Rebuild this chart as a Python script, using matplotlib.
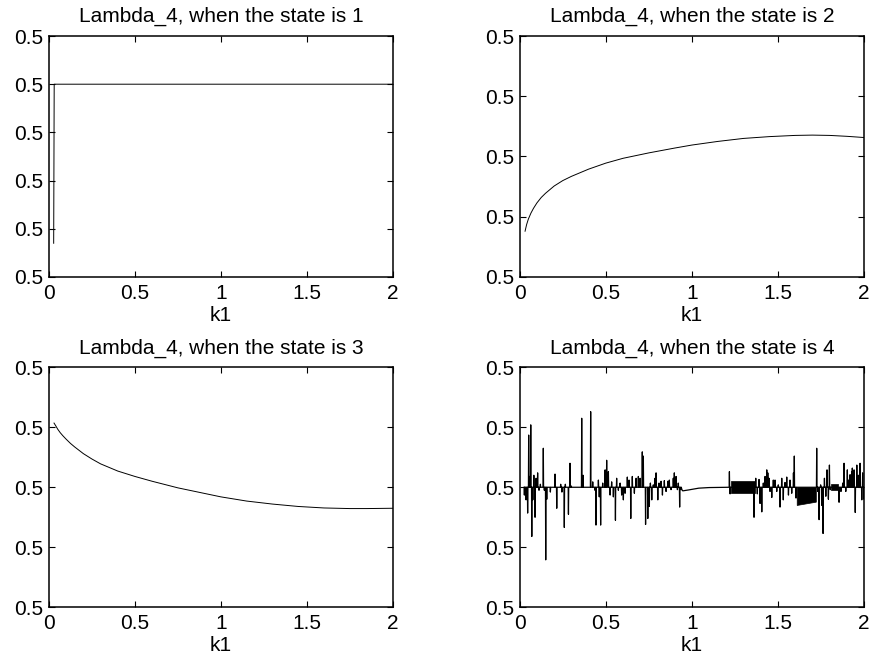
import numpy as np
import matplotlib
matplotlib.use('Agg')
import matplotlib.pyplot as plt
from matplotlib.ticker import FormatStrFormatter

plt.rcParams['font.family'] = ['Liberation Sans', 'DejaVu Sans']
FS = 15

## Lambda_4 values are all within a few 1e-6 of 0.5, so store the
## deviation from 0.5 (in units of 1e-6)
SCALE = 1e-6

# state 1: a short drop at the start then flat
k1_s1 = [0.027, 0.030, 0.035, 0.5, 1.0, 1.5, 2.0]
dev_s1 = [0.70, 4.0, 4.0, 4.0, 4.0, 4.0, 4.0]

# state 2: rising curve
k1_s2 = [0.031, 0.04, 0.05, 0.065, 0.08, 0.10, 0.125, 0.15, 0.2, 0.25,
         0.3, 0.4, 0.5, 0.6, 0.75, 0.9, 1.0, 1.15, 1.3, 1.45, 1.6, 1.7,
         1.8, 1.9, 2.0]
dev_s2 = [0.76, 0.87, 0.96, 1.06, 1.14, 1.23, 1.32, 1.39, 1.51, 1.60,
          1.67, 1.79, 1.89, 1.97, 2.06, 2.14, 2.19, 2.25, 2.30, 2.33, 2.35,
          2.355, 2.35, 2.335, 2.315]

# state 3: falling curve
k1_s3 = [0.029, 0.04, 0.05, 0.065, 0.08, 0.10, 0.125, 0.15, 0.2, 0.25,
         0.3, 0.4, 0.5, 0.6, 0.75, 0.9, 1.0, 1.15, 1.3, 1.45, 1.6, 1.75,
         1.85, 2.0]
dev_s3 = [3.07, 3.02, 2.97, 2.91, 2.86, 2.80, 2.73, 2.67, 2.56, 2.47,
          2.39, 2.27, 2.18, 2.10, 1.99, 1.90, 1.84, 1.77, 1.72, 1.68, 1.655,
          1.645, 1.645, 1.65]

# state 4: noisy around the baseline
base_s4 = 2.0
spike_k1 = [0.027, 0.037, 0.046, 0.052, 0.058, 0.064, 0.070, 0.076, 0.082,
            0.089, 0.095, 0.104, 0.112, 0.120, 0.137, 0.143, 0.151, 0.157,
            0.178, 0.205, 0.215, 0.238, 0.245, 0.259, 0.265, 0.283, 0.292,
            0.300, 0.360, 0.368, 0.412, 0.424, 0.437, 0.443, 0.457, 0.462,
            0.470, 0.482, 0.496, 0.505, 0.515, 0.525, 0.534, 0.544, 0.556,
            0.563, 0.573, 0.583, 0.592, 0.602, 0.612, 0.625, 0.635, 0.645,
            0.654, 0.666, 0.676, 0.689, 0.699, 0.712, 0.718, 0.731, 0.744,
            0.753, 0.759, 0.767, 0.776, 0.786, 0.792, 0.802, 0.809, 0.821,
            0.829, 0.840, 0.850, 0.860, 0.869, 0.879, 0.892, 0.898, 0.908,
            0.916, 0.921, 0.929, 0.937,
            1.218, 1.222, 1.361, 1.371, 1.380, 1.390, 1.396, 1.406, 1.415,
            1.425, 1.435, 1.441, 1.448, 1.454, 1.464, 1.473, 1.483, 1.493,
            1.502, 1.512, 1.522, 1.531, 1.541, 1.551, 1.561, 1.570, 1.580,
            1.590, 1.595, 1.605, 1.725, 1.731, 1.739, 1.748, 1.754, 1.762,
            1.770, 1.778, 1.785, 1.793, 1.799, 1.804, 1.855, 1.866, 1.876,
            1.884, 1.894, 1.903, 1.909, 1.919, 1.929, 1.932, 1.942, 1.949,
            1.958, 1.967, 1.977, 1.987, 1.992, 2.000]
spike_dev = [1.87, 1.79, 1.57, 2.87, 2.18, 3.04, 1.18, 1.79, 2.20,
             1.50, 2.15, 2.24, 1.95, 2.05, 2.65, 1.95, 0.79, 1.80,
             1.92, 2.22, 1.65, 2.05, 1.92, 1.33, 2.05, 1.55, 2.40,
             2.02, 3.15, 2.20, 3.26, 2.09, 1.95, 1.37, 2.12, 1.84,
             1.37, 2.07, 2.29, 2.45, 2.26, 1.87, 2.09, 1.84, 1.45,
             2.15, 1.95, 2.07, 1.87, 1.79, 1.90, 2.17, 2.12, 1.48,
             2.18, 1.90, 2.15, 2.18, 2.15, 2.59, 2.52, 1.38, 1.48,
             1.68, 2.07, 1.79, 2.04, 2.15, 2.24, 1.79, 2.07, 2.10,
             1.87, 2.11, 1.93, 2.10, 2.12, 1.96, 2.15, 2.24, 2.18,
             1.96, 2.07, 1.67, 1.96,
             2.26, 1.89, 1.50, 2.15, 1.89, 2.13, 1.73, 1.59, 2.07,
             2.18, 2.29, 2.24, 2.15, 1.93, 1.83, 2.12, 2.12, 1.93,
             2.04, 1.67, 2.15, 1.79, 2.08, 2.17, 1.87, 2.12, 1.90,
             2.24, 2.52, 1.82, 2.65, 1.93, 1.46, 2.04, 1.70, 1.23,
             2.15, 1.85, 2.29, 1.80, 2.37, 1.96, 1.75, 1.93, 2.07,
             2.40, 1.93, 2.29, 2.12, 2.21, 2.26, 2.32, 2.29, 1.58,
             2.37, 2.20, 2.40, 1.79, 2.24, 1.80]
# smooth stretch in the middle
smooth_k1 = [0.942, 0.947, 0.98, 1.04, 1.10, 1.19, 1.215]
smooth_dev = [1.96, 1.94, 1.955, 1.985, 1.995, 2.0, 2.0]
# stretches of very fast oscillation (drawn as filled bands)
band_k1 = [[1.226, 1.367], [1.609, 1.720], [1.808, 1.850]]
band_lo = [[1.91, 1.91], [1.705, 1.76], [1.95, 1.95]]
band_hi = [[2.10, 2.10], [2.00, 2.00], [2.06, 2.06]]

k1_ticks = [0, 0.5, 1, 1.5, 2]


def lam(dev):
    return 0.5 + np.asarray(dev) * SCALE


def style_axes(ax, state, n_yticks):
    ax.set_xlim(0, 2)
    ax.set_ylim(lam(0), lam(n_yticks))
    ax.set_xticks(k1_ticks)
    ax.set_xticklabels(['0', '0.5', '1', '1.5', '2'])
    ax.set_yticks(lam(np.arange(n_yticks + 1)))
    ax.yaxis.set_major_formatter(FormatStrFormatter('%.1f'))
    ax.tick_params(direction='in', length=4, width=0.8, top=True, right=True,
                   labelsize=FS)
    ax.tick_params(axis='x', pad=5)
    ax.tick_params(axis='y', pad=4)
    for sp in ax.spines.values():
        sp.set_linewidth(1.1)
    ax.set_title('Lambda_4, when the state is %d' % state, fontsize=FS,
                 pad=10)
    ax.set_xlabel('k1', fontsize=FS, labelpad=2)


fig = plt.figure(figsize=(8.71, 6.57), dpi=100)

ax1 = fig.add_axes([0.0563, 0.5784, 0.3946, 0.3668])
ax1.plot(k1_s1, lam(dev_s1), color='k', lw=0.7)
style_axes(ax1, 1, 5)

ax2 = fig.add_axes([0.5967, 0.5784, 0.3953, 0.3668])
ax2.plot(k1_s2, lam(dev_s2), color='k', lw=0.7)
style_axes(ax2, 2, 4)

ax3 = fig.add_axes([0.0563, 0.0757, 0.3946, 0.3653])
ax3.plot(k1_s3, lam(dev_s3), color='k', lw=0.7)
style_axes(ax3, 3, 4)

## state 4: each spike leaves the baseline and comes back to it
ax4 = fig.add_axes([0.5967, 0.0757, 0.3953, 0.3653])
d = 0.0015
xs, ys = [], []
for k, v in zip(spike_k1, spike_dev):
    xs += [k - d, k, k + d]
    ys += [base_s4, v, base_s4]
xs += smooth_k1
ys += smooth_dev
order = np.argsort(xs, kind='stable')
xs = np.array(xs)[order]
ys = np.array(ys)[order]
ax4.plot(xs, lam(ys), color='k', lw=0.9)
for bx, blo, bhi in zip(band_k1, band_lo, band_hi):
    ax4.fill_between(bx, lam(blo), lam(bhi), color='k', lw=0.5)
style_axes(ax4, 4, 4)

fig.savefig('out.png', dpi=100)
